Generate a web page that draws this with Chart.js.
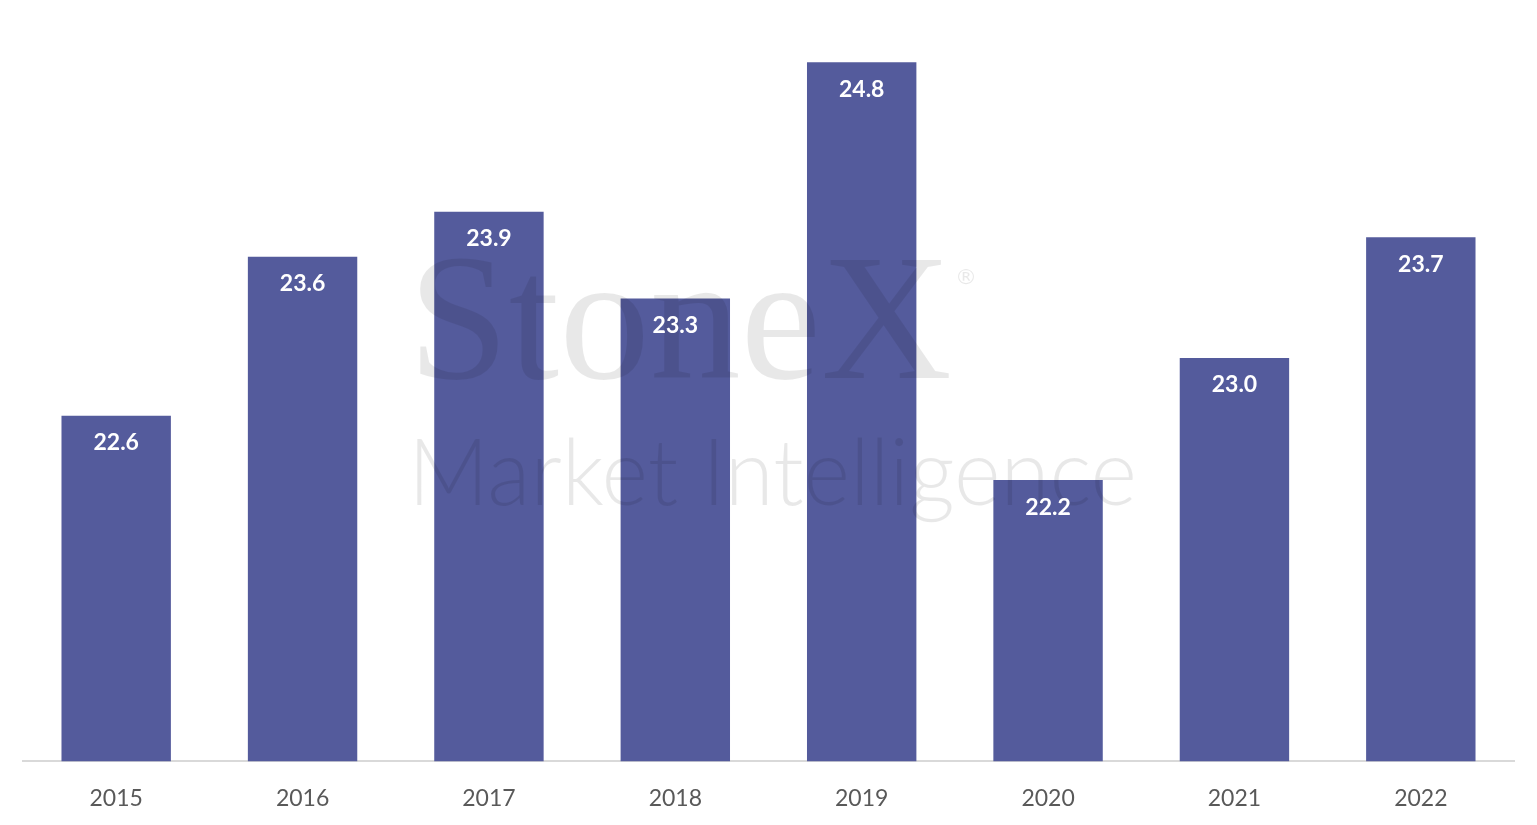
<!DOCTYPE html>
<html>
<head>
<meta charset="utf-8">
<script src="https://cdn.jsdelivr.net/npm/chart.js@4.4.1/dist/chart.umd.min.js"></script>
<style>
  html, body { margin: 0; padding: 0; background: #fff; }
  #wrap { width: 1537px; height: 825px; }
</style>
</head>
<body>
<div id="wrap"><canvas id="chart" width="1537" height="825"></canvas></div>
<script>
const years = ['2015', '2016', '2017', '2018', '2019', '2020', '2021', '2022'];
// bar heights (labels show them to one decimal)
const values = [22.60, 23.59, 23.87, 23.33, 24.80, 22.20, 22.96, 23.71];
const yMin = 20.45;
const yMax = 25;

// watermark over the plot, then the value labels inside each bar
const overlay = {
  id: 'overlay',
  afterDatasetsDraw(chart) {
    const ctx = chart.ctx;
    ctx.save();
    ctx.fillStyle = 'rgba(0, 0, 0, 0.09)';
    ctx.textAlign = 'left';
    ctx.textBaseline = 'alphabetic';
    ctx.font = '180px "Liberation Serif", serif';
    let w = ctx.measureText('StoneX').width;
    ctx.save();
    ctx.translate(408, 378);
    ctx.scale(544 / w, 1);
    ctx.fillText('StoneX', 0, 0);
    ctx.restore();
    ctx.font = '22px "DejaVu Sans", sans-serif';
    ctx.fillText('®', 955, 284);
    ctx.font = '300 92px Lato, "Open Sans", sans-serif';
    w = ctx.measureText('Market Intelligence').width;
    ctx.save();
    ctx.translate(408, 505);
    ctx.scale(729 / w, 1);
    ctx.fillText('Market Intelligence', 0, 0);
    ctx.restore();
    ctx.restore();

    const meta = chart.getDatasetMeta(0);
    ctx.save();
    ctx.fillStyle = '#ffffff';
    ctx.font = 'bold 23px Lato, "Open Sans", sans-serif';
    ctx.textAlign = 'center';
    ctx.textBaseline = 'middle';
    meta.data.forEach((bar, i) => {
      ctx.fillText(values[i].toFixed(1), bar.x, bar.y + 27);
    });
    ctx.restore();
  }
};

new Chart(document.getElementById('chart'), {
  type: 'bar',
  data: {
    labels: years,
    datasets: [{
      data: values,
      backgroundColor: '#545b9c',
      barPercentage: 0.587,
      categoryPercentage: 1.0,
      base: yMin
    }]
  },
  options: {
    responsive: false,
    animation: false,
    layout: { padding: { top: 30, left: 23, right: 23, bottom: -2 } },
    plugins: {
      legend: { display: false },
      tooltip: { enabled: false }
    },
    scales: {
      x: {
        grid: { display: false },
        border: { display: true, color: '#d9d9d9', width: 2 },
        ticks: {
          color: '#595959',
          font: { family: 'Lato, "Open Sans", sans-serif', size: 23 },
          padding: 15
        }
      },
      y: {
        display: false,
        min: yMin,
        max: yMax
      }
    }
  },
  plugins: [overlay]
});
</script>
</body>
</html>
